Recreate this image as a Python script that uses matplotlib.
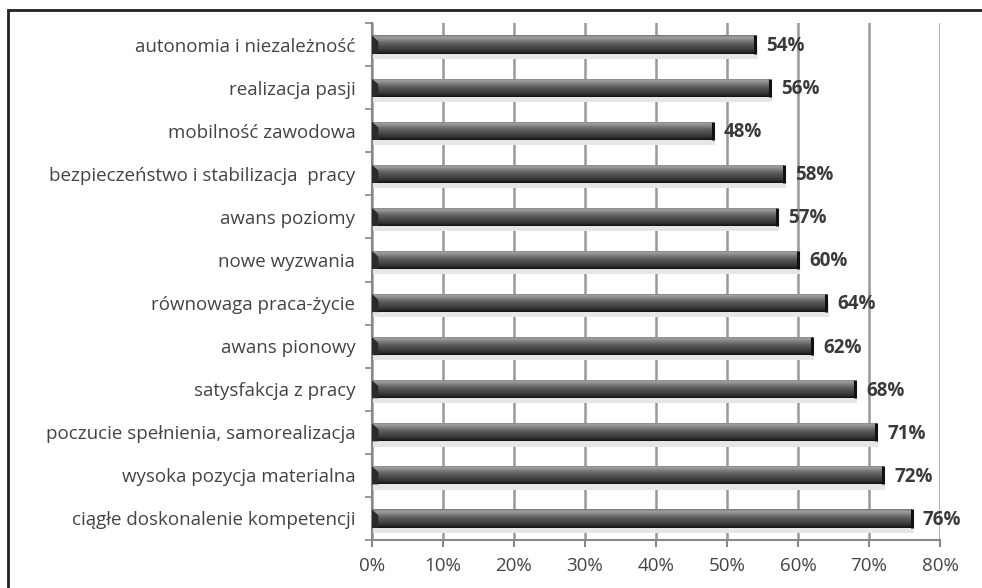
import numpy as np
import matplotlib
matplotlib.use('Agg')
import matplotlib.pyplot as plt
from matplotlib.colors import LinearSegmentedColormap
from matplotlib.patches import Rectangle, Polygon

categories = [
    'autonomia i niezależność',
    'realizacja pasji',
    'mobilność zawodowa',
    'bezpieczeństwo i stabilizacja  pracy',
    'awans poziomy',
    'nowe wyzwania',
    'równowaga praca-życie',
    'awans pionowy',
    'satysfakcja z pracy',
    'poczucie spełnienia, samorealizacja',
    'wysoka pozycja materialna',
    'ciągłe doskonalenie kompetencji',
]
values = [54, 56, 48, 58, 57, 60, 64, 62, 68, 71, 72, 76]
xticks = [0, 10, 20, 30, 40, 50, 60, 70, 80]

plt.rcParams['font.family'] = ['Open Sans', 'DejaVu Sans']

fig = plt.figure(figsize=(9.82, 5.88), dpi=100)
ax = fig.add_axes([0.3788, 0.0816, 0.5784, 0.8793])

# cylinder-like shading, top of bar to bottom
shade = LinearSegmentedColormap.from_list('cyl', [
    (0.0, '#777777'), (0.12, '#a0a0a0'), (0.25, '#858585'),
    (0.45, '#5e5e5e'), (0.7, '#434343'), (0.88, '#2c2c2c'), (1.0, '#101010')])
grad = np.linspace(0, 1, 64).reshape(-1, 1)

ypos = np.arange(len(categories))
h = 0.42
for y, v in zip(ypos, values):
    # soft drop shadow under each bar
    ax.add_patch(Rectangle((0, y), v + 0.3, h / 2 + 0.12,
                           facecolor='#e6e6e6', edgecolor='none', zorder=2))
bars = ax.barh(ypos, values, height=h, color='none', edgecolor='none', zorder=3)
for bar, y, v in zip(bars, ypos, values):
    im = ax.imshow(grad, cmap=shade, aspect='auto', zorder=3,
                   extent=(0, v, y + h / 2, y - h / 2), interpolation='bilinear')
    im.set_clip_path(bar)
    # bevelled left end
    ax.add_patch(Polygon([(0, y - h / 2), (0.9, y - h / 6), (0.9, y + h / 2), (0, y + h / 2)],
                         closed=True, facecolor='#2a2a2a', edgecolor='none', zorder=4))
    ax.plot([v, v], [y - h / 2, y + h / 2], color='#111111', lw=2.2, zorder=4,
            solid_capstyle='butt')
    ax.annotate(f'{v}%', (v, y), xytext=(8, -1), textcoords='offset points',
                va='center', ha='left', fontsize=13.5, fontweight='bold',
                color='#3a3a3a', zorder=5)

ax.set_xlim(0, 80)
ax.set_ylim(len(categories) - 0.5, -0.5)
ax.set_xticks(xticks)
ax.set_xticklabels([f'{t}%' for t in xticks], fontsize=13.5, color='#444444')
ax.set_yticks(ypos)
ax.set_yticklabels(categories, fontsize=13.5, color='#444444')
ax.set_yticks(np.arange(len(categories) + 1) - 0.5, minor=True)
ax.tick_params(axis='y', which='major', length=0, pad=12)
ax.tick_params(axis='y', which='minor', length=5, width=1.2, color='#888888')
ax.tick_params(axis='x', length=5, width=1.5, color='#888888', pad=7)

ax.grid(axis='x', color='#999999', lw=1.8, zorder=1)
ax.set_axisbelow(True)
for side in ['top', 'right']:
    ax.spines[side].set_visible(False)
for side in ['left', 'bottom']:
    ax.spines[side].set_color('#888888')
    ax.spines[side].set_linewidth(1.5)

# outer frame (only left and top edges fall inside the image)
fig.add_artist(Rectangle((8 / 982, -0.1), 1.2, 1.1 - 10 / 588,
                         transform=fig.transFigure, fill=False,
                         edgecolor='#222222', lw=2))

fig.savefig('out.png', dpi=100)
